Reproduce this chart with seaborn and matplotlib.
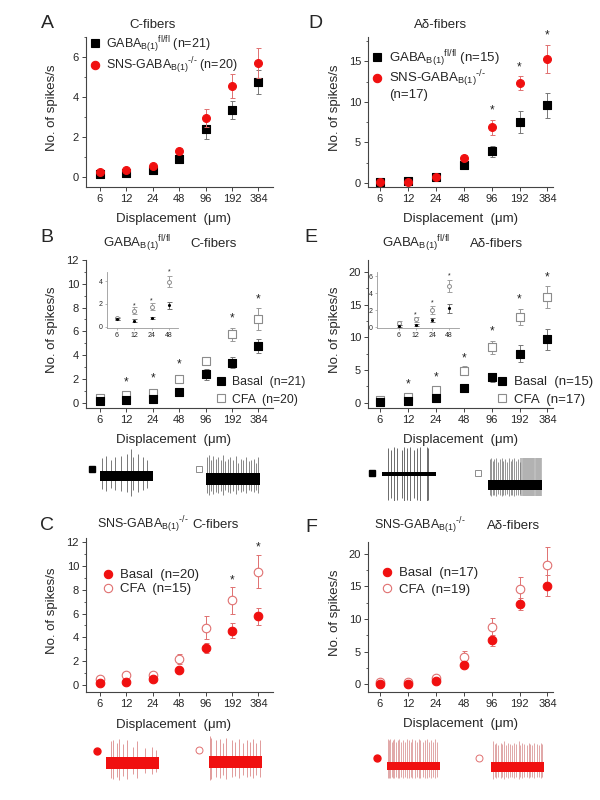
import matplotlib
matplotlib.use("Agg")
import matplotlib.pyplot as plt
from matplotlib.lines import Line2D
from matplotlib.ticker import MultipleLocator
import numpy as np
import seaborn as sns

sns.set_style("ticks")
plt.rcParams['font.family'] = ['Liberation Sans', 'DejaVu Sans']
plt.rcParams['mathtext.fontset'] = 'custom'
plt.rcParams['mathtext.rm'] = 'Liberation Sans'
plt.rcParams['mathtext.it'] = 'Liberation Sans:italic'

displacement = ['6', '12', '24', '48', '96', '192', '384']
inset_displacement = ['6', '12', '24', '48']

# A - C-fibers, naive
a_flox = [0.17, 0.22, 0.33, 0.92, 2.38, 3.37, 4.77]
a_flox_err = [0.05, 0.05, 0.08, 0.15, 0.46, 0.45, 0.6]
a_sns = [0.25, 0.37, 0.53, 1.3, 2.97, 4.53, 5.7]
a_sns_err = [0.05, 0.07, 0.1, 0.15, 0.45, 0.6, 0.77]

# D - A-delta fibers, naive
d_flox = [0.1, 0.25, 0.74, 2.2, 3.9, 7.5, 9.6]
d_flox_err = [0.1, 0.15, 0.2, 0.4, 0.67, 1.35, 1.55]
d_sns = [0.12, 0.12, 0.74, 3.05, 6.87, 12.35, 15.3]
d_sns_err = [0.1, 0.1, 0.3, 0.4, 0.95, 0.85, 1.7]
d_star_idx = [4, 5, 6]
d_star_y = [8.9, 14.3, 18.2]

# B - GABAB(1) fl/fl, C-fibers, basal vs CFA
b_basal = [0.14, 0.2, 0.34, 0.92, 2.38, 3.36, 4.76]
b_basal_err = [0.05, 0.05, 0.08, 0.15, 0.45, 0.45, 0.6]
b_cfa = [0.36, 0.64, 0.84, 1.96, 3.47, 5.77, 7.03]
b_cfa_err = [0.1, 0.15, 0.15, 0.2, 0.3, 0.55, 0.9]
b_star_idx = [1, 2, 3, 5, 6]
b_star_y = [1.7, 2.0, 3.2, 7.1, 8.7]
bi_basal = [0.7, 0.55, 0.8, 1.9]
bi_basal_err = [0.1, 0.1, 0.1, 0.3]
bi_cfa = [0.75, 1.4, 1.75, 3.95]
bi_cfa_err = [0.15, 0.3, 0.3, 0.5]
bi_star_idx = [1, 2, 3]
bi_star_y = [1.8, 2.25, 4.8]

# E - GABAB(1) fl/fl, A-delta fibers, basal vs CFA
e_basal = [0.1, 0.2, 0.75, 2.2, 3.9, 7.5, 9.7]
e_basal_err = [0.1, 0.15, 0.2, 0.4, 0.7, 1.3, 1.6]
e_cfa = [0.4, 0.9, 2.0, 4.9, 8.5, 13.1, 16.1]
e_cfa_err = [0.2, 0.3, 0.5, 0.7, 1.0, 1.2, 1.7]
e_star_idx = [1, 2, 3, 4, 5, 6]
e_star_y = [2.8, 3.8, 6.8, 10.9, 15.8, 19.1]
ei_basal = [0.16, 0.27, 0.86, 2.2]
ei_basal_err = [0.1, 0.1, 0.2, 0.5]
ei_cfa = [0.47, 0.93, 2.0, 4.9]
ei_cfa_err = [0.2, 0.3, 0.5, 0.7]
ei_star_idx = [1, 2, 3]
ei_star_y = [1.4, 2.9, 6.1]

# C - SNS-GABAB(1)-/-, C-fibers
c_basal = [0.2, 0.3, 0.5, 1.3, 3.1, 4.58, 5.75]
c_basal_err = [0.05, 0.07, 0.1, 0.15, 0.4, 0.6, 0.75]
c_cfa = [0.5, 0.85, 0.85, 2.2, 4.8, 7.1, 9.5]
c_cfa_err = [0.15, 0.15, 0.2, 0.4, 0.95, 1.1, 1.4]
c_star_idx = [5, 6]
c_star_y = [8.8, 11.5]

# F - SNS-GABAB(1)-/-, A-delta fibers
f_basal = [0.1, 0.05, 0.5, 2.9, 6.7, 12.3, 15.1]
f_basal_err = [0.1, 0.1, 0.3, 0.4, 0.9, 0.9, 1.6]
f_cfa = [0.4, 0.35, 1.0, 4.1, 8.7, 14.6, 18.2]
f_cfa_err = [0.2, 0.3, 0.4, 1.0, 1.5, 1.9, 2.8]

# example recordings: spike times (fraction of sweep) and peak heights
b_basal_spk = [0.03, 0.12, 0.2, 0.29, 0.39, 0.5, 0.59, 0.62, 0.72, 0.81, 0.88]
b_basal_amp = [0.65, 0.75, 0.6, 0.7, 0.75, 0.8, 1.0, 0.7, 0.8, 0.7, 0.6]
b_cfa_spk = [0.02, 0.06, 0.1, 0.13, 0.18, 0.22, 0.27, 0.31, 0.36, 0.41, 0.45,
             0.5, 0.55, 0.6, 0.64, 0.69, 0.74, 0.79, 0.84, 0.88, 0.93, 0.97]
b_cfa_amp = [0.8, 0.9, 0.7, 0.85, 0.75, 0.8, 0.7, 0.9, 0.65, 0.75, 0.8,
             0.7, 0.85, 0.6, 0.75, 0.7, 0.8, 0.65, 0.7, 0.75, 0.6, 0.8]
e_basal_spk = [0.12, 0.17, 0.22, 0.27, 0.37, 0.41, 0.46, 0.52, 0.59, 0.64, 0.71, 0.83, 0.86]
e_basal_amp = [0.95, 0.9, 1.0, 0.95, 0.9, 1.0, 0.95, 1.0, 0.9, 0.95, 1.0, 1.0, 0.95]
e_cfa_spk = [0.03, 0.06, 0.09, 0.12, 0.15, 0.19, 0.22, 0.25, 0.28, 0.32,
             0.35, 0.38, 0.42, 0.45, 0.49, 0.52, 0.56, 0.59]
e_cfa_amp = [0.95, 1.0, 0.9, 0.95, 1.0, 0.85, 0.95, 1.0, 0.9, 0.95,
             0.85, 1.0, 0.9, 0.95, 1.0, 0.9, 0.95, 0.85]
e_cfa_burst = [0.62, 0.64, 0.66, 0.68, 0.7, 0.72, 0.74, 0.76, 0.78, 0.8,
               0.82, 0.84, 0.86, 0.88, 0.9, 0.92, 0.94, 0.96, 0.98]
c_basal_spk = [0.09, 0.14, 0.2, 0.25, 0.33, 0.4, 0.5, 0.58, 0.73, 0.86, 0.95]
c_basal_amp = [0.8, 0.85, 0.75, 0.9, 0.7, 0.85, 0.6, 0.8, 0.55, 0.6, 0.5]
c_cfa_spk = [0.02, 0.04, 0.14, 0.21, 0.27, 0.33, 0.43, 0.49, 0.57, 0.64, 0.71, 0.77, 0.83, 0.89, 0.96]
c_cfa_amp = [0.95, 0.9, 0.8, 0.85, 0.7, 0.9, 0.8, 0.75, 0.85, 0.7, 0.8, 0.75, 0.85, 0.7, 0.8]
f_basal_spk = [0.02, 0.04, 0.06, 0.09, 0.11, 0.14, 0.17, 0.2, 0.23, 0.27, 0.3, 0.34, 0.37,
               0.41, 0.45, 0.48, 0.52, 0.56, 0.6, 0.63, 0.67, 0.71, 0.75, 0.79, 0.83, 0.87, 0.91, 0.95]
f_basal_amp = [1.0, 0.95, 1.0, 0.9, 0.95, 1.0, 0.9, 0.95, 1.0, 0.9, 0.95, 0.9, 1.0,
               0.95, 0.9, 1.0, 0.95, 0.9, 1.0, 0.95, 0.9, 0.95, 1.0, 0.9, 0.95, 0.9, 1.0, 0.9]
f_cfa_spk = [0.03, 0.07, 0.1, 0.14, 0.18, 0.21, 0.25, 0.29, 0.33, 0.36, 0.4, 0.44, 0.48,
             0.52, 0.55, 0.59, 0.63, 0.67, 0.71, 0.74, 0.78, 0.82, 0.86, 0.9, 0.94, 0.97]
f_cfa_amp = [0.95, 0.85, 0.9, 0.8, 0.9, 0.85, 0.95, 0.8, 0.9, 0.85, 0.8, 0.9, 0.85,
             0.95, 0.8, 0.9, 0.85, 0.8, 0.9, 0.85, 0.8, 0.9, 0.85, 0.8, 0.9, 0.85]

RED = '#f01010'
RED_LIGHT = '#e07070'
GREY = '#8c8c8c'
FS = 9.5

flox = r'GABA$_{\mathrm{B(1)}}{}^{\mathrm{fl/fl}}$'
sns_ko = 'SNS-GABA$_{\\mathrm{B(1)}}{}^{\\mathrm{\u2010/\u2010}}$'

fig = plt.figure(figsize=(6, 8), dpi=100)


def fx(px):
    return px / 600


def fy(py):
    return 1 - py / 800


def rect(l, t, r, b):
    return [fx(l), fy(b), fx(r) - fx(l), fy(t) - fy(b)]


def series(ax, y, err, marker, face, edge, ecolor, s=30, z=3, lw=0.8):
    x = np.arange(len(y))
    ax.errorbar(x, y, yerr=err, fmt='none', ecolor=ecolor, elinewidth=0.7,
                capsize=1.8, capthick=0.7, zorder=z - 1)
    sns.scatterplot(x=x, y=y, ax=ax, marker=marker, s=s, color=face,
                    edgecolor=edge, linewidth=lw, zorder=z, legend=False)


def stars(ax, idx, ys, fs=8.5):
    for i, y in zip(idx, ys):
        ax.text(i, y, '*', ha='center', va='center', fontsize=fs, color='#222222')


def style_axes(ax, xlim, ylim, major, minor, left_col=True):
    ax.set_xlim(*xlim)
    ax.set_ylim(*ylim)
    ax.set_xticks(range(len(displacement)))
    ax.set_xticklabels(displacement)
    ax.yaxis.set_major_locator(MultipleLocator(major))
    ax.yaxis.set_minor_locator(MultipleLocator(minor))
    sns.despine(ax=ax)
    for sp in ['left', 'bottom']:
        ax.spines[sp].set_linewidth(0.8)
        ax.spines[sp].set_color('#444444')
    ax.tick_params(axis='both', which='major', direction='out', length=3,
                   width=0.7, labelsize=8, pad=2, color='#444444')
    ax.tick_params(axis='y', which='minor', direction='out', length=1.8,
                   width=0.6, color='#444444')
    ax.set_xlabel('Displacement  (\u03bcm)', fontsize=FS)
    ax.set_ylabel('No. of spikes/s', fontsize=FS)
    ax.xaxis.set_label_coords(0.47 if left_col else 0.5, -0.175)
    ax.yaxis.set_label_coords(-0.15 if left_col else -0.145, 0.53)


def legend(ax, handles, labels, x0, top, spacing=0.35, fs=FS):
    ax.legend(handles, labels, loc='upper left', bbox_to_anchor=(fx(x0), fy(top)),
              bbox_transform=fig.transFigure, frameon=False, fontsize=fs,
              handlelength=0.8, handletextpad=0.5, labelspacing=spacing,
              borderpad=0, borderaxespad=0)


def h(marker, face, edge, ms=6):
    return Line2D([], [], ls='none', marker=marker, mfc=face, mec=edge, ms=ms, mew=0.8)


def inset(r, basal, basal_err, cfa, cfa_err, sidx, sy, xlim, ylim, yt):
    ax = fig.add_axes(r)
    series(ax, cfa, cfa_err, 'o', 'white', GREY, '#a0a0a0', s=8, lw=0.7)
    series(ax, basal, basal_err, 'o', 'black', 'black', '#707070', s=5, z=4, lw=0)
    stars(ax, sidx, sy, fs=5)
    ax.set_xlim(*xlim)
    ax.set_ylim(*ylim)
    ax.set_xticks(range(len(inset_displacement)))
    ax.set_xticklabels(inset_displacement)
    ax.set_yticks(yt)
    sns.despine(ax=ax)
    for sp in ['left', 'bottom']:
        ax.spines[sp].set_linewidth(0.6)
        ax.spines[sp].set_color('#999999')
    ax.tick_params(length=1.5, width=0.5, labelsize=5, pad=1.5, color='#999999')
    ax.patch.set_alpha(0)


def trace(l, r, yc, spk, amp, band, depth, color, spike_color, sym, sym_x, sym_y,
          burst=None, burst_color=None):
    half = 27
    ax = fig.add_axes(rect(l, yc - half, r, yc + half))
    ax.set_xlim(0, 1)
    ax.set_ylim(-1, 1)
    ax.axis('off')
    spk = np.array(spk)
    amp = np.array(amp)
    ax.vlines(spk, -depth * amp, amp, color=spike_color, lw=0.55, zorder=2)
    if burst is not None:
        ax.vlines(burst, -depth, 1.0, color=burst_color, lw=1.2, zorder=1)
    ax.fill_between([0, 1], -band, band, color=color, lw=0, zorder=3)
    ax.plot((sym_x - l) / (r - l), (yc - sym_y) / half, ls='none', clip_on=False, **sym)


# ---------------- A ----------------
axA = fig.add_axes(rect(86, 37, 273, 187))
series(axA, a_flox, a_flox_err, 's', 'black', 'black', '#777777', s=26)
series(axA, a_sns, a_sns_err, 'o', RED, RED, RED_LIGHT, z=5, s=32)
style_axes(axA, (-0.53, 6.55), (-0.5, 7.0), 2, 1)
legend(axA, [h('s', 'black', 'black'), h('o', RED, RED)],
       [flox + ' (n=21)', sns_ko + ' (n=20)'], 90, 34, spacing=0.05, fs=9)
fig.text(fx(153), fy(25), 'C-fibers', ha='center', va='center', fontsize=FS)

# ---------------- D ----------------
axD = fig.add_axes(rect(368, 37, 553, 187))
series(axD, d_flox, d_flox_err, 's', 'black', 'black', '#777777', s=26)
series(axD, d_sns, d_sns_err, 'o', RED, RED, RED_LIGHT, z=5, s=32)
stars(axD, d_star_idx, d_star_y)
style_axes(axD, (-0.43, 6.2), (-0.5, 18.0), 5, 2.5, left_col=False)
legend(axD, [h('s', 'black', 'black'), h('o', RED, RED), Line2D([], [], ls='none')],
       [flox + ' (n=15)', sns_ko, '(n=17)'], 372, 48, spacing=0.0, fs=9.5)
fig.text(fx(441), fy(25), 'A\u03b4-fibers', ha='center', va='center', fontsize=FS)

# ---------------- B ----------------
axB = fig.add_axes(rect(86, 260, 273, 408))
series(axB, b_cfa, b_cfa_err, 's', 'white', GREY, '#999999', s=34)
series(axB, b_basal, b_basal_err, 's', 'black', 'black', '#777777', z=5, s=34)
stars(axB, b_star_idx, b_star_y)
style_axes(axB, (-0.53, 6.55), (-0.45, 12.0), 2, 1)
legend(axB, [h('s', 'black', 'black'), h('s', 'white', GREY)],
       ['Basal  (n=21)', 'CFA  (n=20)'], 216, 376, spacing=0.45, fs=8.8)
fig.text(fx(103), fy(244), flox, ha='left', va='center', fontsize=FS)
fig.text(fx(190), fy(244), 'C-fibers', ha='left', va='center', fontsize=FS)
inset(rect(107, 272, 178, 328), bi_basal, bi_basal_err, bi_cfa, bi_cfa_err,
      bi_star_idx, bi_star_y, (-0.58, 3.52), (-0.1, 4.8), [0, 2, 4])

# ---------------- E ----------------
axE = fig.add_axes(rect(368, 260, 553, 408))
series(axE, e_cfa, e_cfa_err, 's', 'white', GREY, '#999999', s=34)
series(axE, e_basal, e_basal_err, 's', 'black', 'black', '#777777', z=5, s=34)
stars(axE, e_star_idx, e_star_y)
style_axes(axE, (-0.43, 6.2), (-0.8, 21.8), 5, 2.5, left_col=False)
legend(axE, [h('s', 'black', 'black'), h('s', 'white', GREY)],
       ['Basal  (n=15)', 'CFA  (n=17)'], 497, 376, spacing=0.4)
fig.text(fx(382), fy(244), flox, ha='left', va='center', fontsize=FS)
fig.text(fx(470), fy(244), 'A\u03b4-fibers', ha='left', va='center', fontsize=FS)
inset(rect(377, 272, 459, 328), ei_basal, ei_basal_err, ei_cfa, ei_cfa_err,
      ei_star_idx, ei_star_y, (-1.32, 3.6), (-0.1, 6.5), [0, 2, 4, 6])

# ---------------- C ----------------
axC = fig.add_axes(rect(86, 538, 273, 692))
series(axC, c_cfa, c_cfa_err, 'o', 'white', RED_LIGHT, RED_LIGHT, s=38)
series(axC, c_basal, c_basal_err, 'o', RED, RED, RED_LIGHT, z=5, s=38)
stars(axC, c_star_idx, c_star_y)
style_axes(axC, (-0.53, 6.55), (-0.55, 12.3), 2, 1)
legend(axC, [h('o', RED, RED), h('o', 'white', RED_LIGHT)],
       ['Basal  (n=20)', 'CFA  (n=15)'], 103, 569, spacing=0.15)
fig.text(fx(97), fy(525), sns_ko, ha='left', va='center', fontsize=9)
fig.text(fx(192), fy(525), 'C-fibers', ha='left', va='center', fontsize=FS)

# ---------------- F ----------------
axF = fig.add_axes(rect(368, 542, 553, 692))
series(axF, f_cfa, f_cfa_err, 'o', 'white', RED_LIGHT, RED_LIGHT, s=38)
series(axF, f_basal, f_basal_err, 'o', RED, RED, RED_LIGHT, z=5, s=38)
style_axes(axF, (-0.43, 6.2), (-1.2, 21.8), 5, 2.5, left_col=False)
legend(axF, [h('o', RED, RED), h('o', 'white', RED_LIGHT)],
       ['Basal  (n=17)', 'CFA  (n=19)'], 382, 567, spacing=0.35)
fig.text(fx(374), fy(526), sns_ko, ha='left', va='center', fontsize=9)
fig.text(fx(487), fy(526), 'A\u03b4-fibers', ha='left', va='center', fontsize=FS)

# ---------------- panel letters ----------------
for letter, x, y in [('A', 47, 24), ('D', 315, 24), ('B', 47, 237),
                     ('E', 311, 237), ('C', 47, 526), ('F', 311, 527)]:
    fig.text(fx(x), fy(y), letter, ha='center', va='center', fontsize=14)

# ---------------- example recordings ----------------
sq_f = dict(marker='s', mfc='black', mec='black', ms=3.8)
sq_o = dict(marker='s', mfc='white', mec=GREY, ms=4.2, mew=0.7)
ci_f = dict(marker='o', mfc=RED, mec=RED, ms=5)
ci_o = dict(marker='o', mfc='white', mec=RED_LIGHT, ms=5, mew=0.7)

trace(100, 153, 476, b_basal_spk, b_basal_amp, 0.19, 0.75, 'black', '#555555', sq_f, 92, 469)
trace(206, 260, 479, b_cfa_spk, b_cfa_amp, 0.24, 0.65, 'black', '#666666', sq_o, 199, 469)
trace(382, 436, 474, e_basal_spk, e_basal_amp, 0.09, 1.0, 'black', '#444444', sq_f, 372, 473)
trace(488, 542, 485, e_cfa_spk, e_cfa_amp, 0.2, 0.4, 'black', '#777777', sq_o, 478, 473,
      burst=e_cfa_burst, burst_color='#b0b0b0')
trace(106, 159, 763, c_basal_spk, c_basal_amp, 0.22, 0.7, RED, '#d88080', ci_f, 97, 751)
trace(209, 262, 762, c_cfa_spk, c_cfa_amp, 0.24, 0.7, RED, '#d88080', ci_o, 199, 750)
trace(387, 440, 766, f_basal_spk, f_basal_amp, 0.15, 0.45, RED, '#d89090', ci_f, 377, 758)
trace(491, 544, 767, f_cfa_spk, f_cfa_amp, 0.18, 0.45, RED, '#d89090', ci_o, 479, 758)

fig.savefig('out.png', dpi=100)
